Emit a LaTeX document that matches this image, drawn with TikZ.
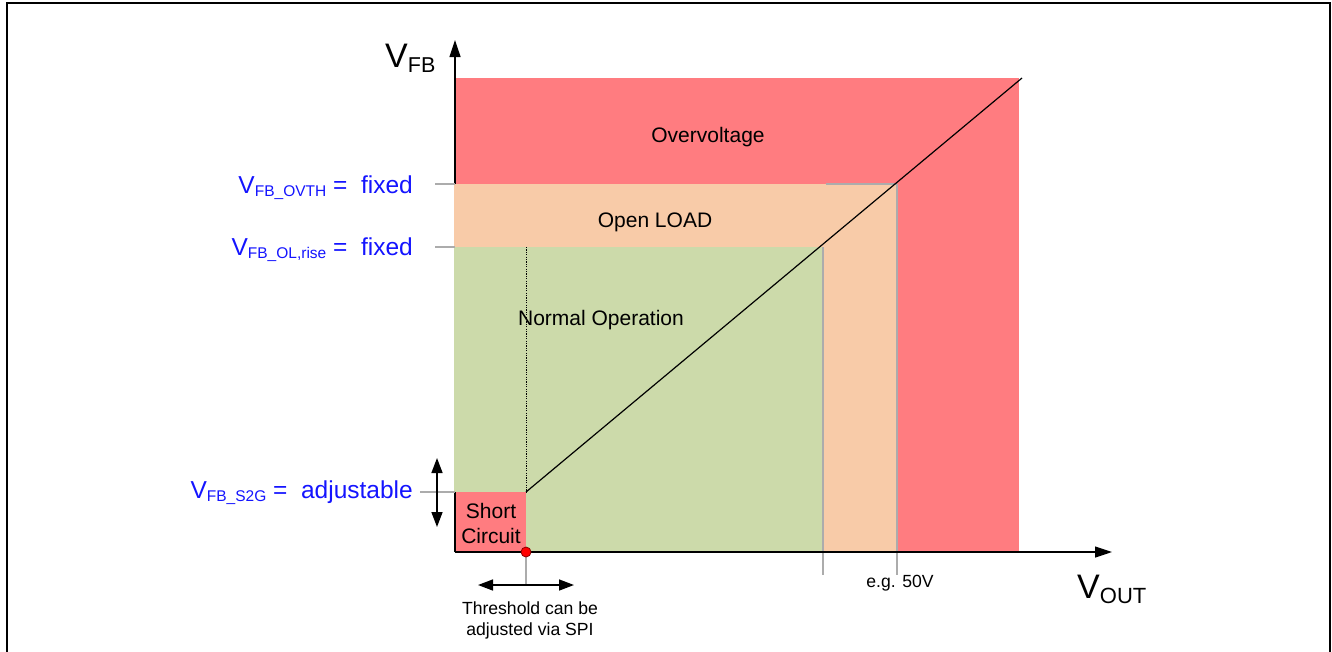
\documentclass[tikz,border=0pt]{standalone}
\usepackage{fontspec}
\setmainfont{Liberation Sans}
\usetikzlibrary{arrows.meta,positioning}
\definecolor{ovred}{RGB}{255,124,128}
\definecolor{olorange}{RGB}{248,203,168}
\definecolor{okgreen}{RGB}{204,218,170}
\definecolor{lblue}{RGB}{20,20,255}
\definecolor{tickgray}{RGB}{172,172,172}
% lowered subscript: size, text
\newcommand{\lowsub}[2]{\raisebox{-.25\dimexpr#1pt\relax}{\fontsize{#1}{#1}\selectfont #2}}

\begin{document}
\begin{tikzpicture}[x=1pt,y=-1pt,
  region/.style={font=\fontsize{21}{25}\selectfont,inner sep=0pt},
  level/.style={anchor=base east,text=lblue,font=\fontsize{24.5}{28}\selectfont,inner sep=0pt},
  axislabel/.style={anchor=base west,font=\fontsize{34}{40}\selectfont,inner sep=0pt},
  small/.style={font=\fontsize{17.6}{21}\selectfont,align=center,inner sep=0pt},
  tick/.style={tickgray,line width=1.5pt},
  axis/.style={line width=1.2pt,-{Triangle[length=17pt,width=11pt]}},
  adjust/.style={line width=1.5pt,{Triangle[length=15pt,width=11pt]}-{Triangle[length=15pt,width=11pt]}}]

  \useasboundingbox (0,0) rectangle (1332,651);
  \draw[line width=1.5pt] (7,652) -- (7,3) -- (1330,3) -- (1330,652);

  \coordinate (O) at (455,552);
  \coordinate (S2G) at (526,492);
  \coordinate (OL) at (823,247);
  \coordinate (OV) at (897,184);
  \coordinate (E) at (1022,78);

  % regions
  \fill[ovred] (455,78) rectangle (1019,552);
  \draw[axis] (O) -- (455,40);
  \fill[olorange] (454,184) rectangle (897,552);
  \fill[okgreen] (454,247) rectangle (823,552);
  \fill[ovred] (455,492) rectangle (S2G |- O);
  \draw[line width=1.2pt] (O) -- (455,492);

  % threshold lines
  \draw[tick] (435,184) -- (455,184);
  \draw[tick] (826,184) -- (OV);
  \draw[tick] (435,247) -- (455,247);
  \draw[tick] (420,492) -- (455,492);
  \draw[tick] (OL) -- (823,575);
  \draw[tick] (OV) -- (897,575);
  \draw[tick] (526,552) -- (526,585);

  \draw[line width=1pt,dash pattern=on 1.2pt off 1.2pt] (526,247) -- (S2G);
  \draw[line width=1.2pt] (S2G) -- (E);

  % axes
  \draw[axis] (O) -- (1112,552);
  \node[axislabel] (vfb) at (385,67) {V\lowsub{21.5}{FB}};
  \node[axislabel] (vout) at (1077,598) {V\lowsub{22}{OUT}};

  \node[region,anchor=base] (ov) at (708,142) {Overvoltage};
  \node[region,anchor=base] (ol) at (655,227) {Open LOAD};
  \node[region,anchor=base] (normal) at (601,325) {Normal Operation};
  \node[region,align=center] (sc) at (491,523) {Short\\Circuit};

  \node[level] (ovth) at (413,193) {V\lowsub{15.5}{FB\_OVTH}\ =\ \ fixed};
  \node[level] (olrise) at (413,255) {V\lowsub{15.5}{FB\_OL,rise}\ =\ \ fixed};
  \node[level] (s2g) at (413,498) {V\lowsub{15.5}{FB\_S2G}\ =\ \ adjustable};

  \node[circle,fill=red,draw=red!55!black,line width=0.8pt,inner sep=0pt,minimum size=10pt] (thr) at (526,552) {};

  \coordinate (upS) at (437,458);
  \coordinate (dnS) at (437,527);
  \draw[adjust] (upS) -- (dnS);
  \coordinate (thrL) at (478,585);
  \coordinate (thrR) at (574,585);
  \draw[adjust] (thrL) -- (thrR);

  \node[small] (thrtext) at (530,620) {Threshold can be\\adjusted via SPI};
  \node[small] (eg) at (900,583) {e.g. 50V};
\end{tikzpicture}
\end{document}
